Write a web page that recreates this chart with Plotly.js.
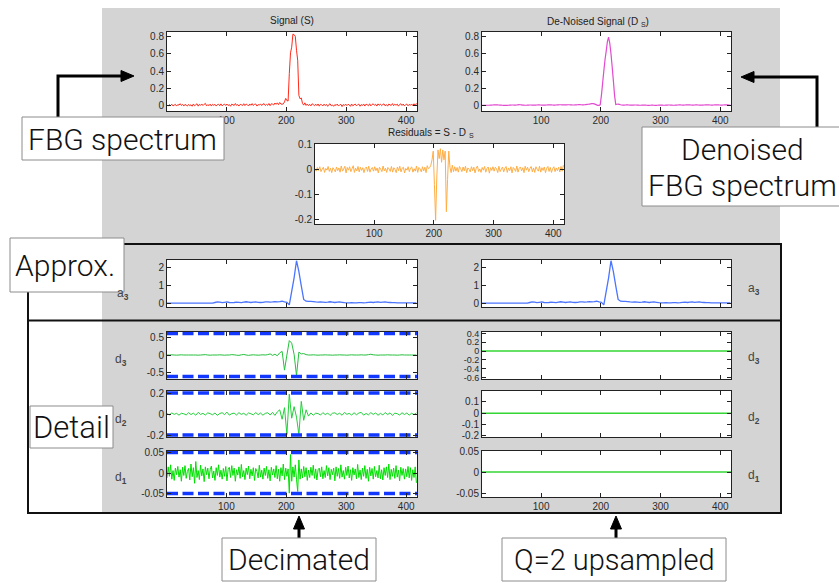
<!DOCTYPE html>
<html>
<head>
<meta charset="utf-8">
<script src="https://cdn.plot.ly/plotly-3.0.1.min.js"></script>
<style>
  html, body { margin: 0; padding: 0; background: #fff; }
  #chart { width: 839px; height: 583px; }
</style>
</head>
<body>
<div id="chart"></div>
<script>
// ---------------- data ----------------
// De-noised spectrum D_S, every 2nd sample (1, 3, 5, ... 417)
const denoisedSignal = [
  0.004,0.004,0.005,0.005,0.006,0.006,0.006,0.007,0.008,0.009,
  0.010,0.011,0.011,0.010,0.009,0.008,0.007,0.006,0.005,0.005,
  0.005,0.005,0.006,0.007,0.008,0.009,0.009,0.008,0.008,0.009,
  0.011,0.013,0.012,0.010,0.008,0.007,0.006,0.006,0.007,0.008,
  0.009,0.009,0.008,0.007,0.007,0.008,0.009,0.010,0.010,0.009,
  0.008,0.007,0.007,0.008,0.009,0.010,0.011,0.011,0.010,0.009,
  0.008,0.008,0.009,0.010,0.011,0.012,0.012,0.011,0.010,0.010,
  0.010,0.011,0.012,0.012,0.011,0.010,0.009,0.009,0.010,0.011,
  0.012,0.013,0.013,0.012,0.011,0.011,0.012,0.014,0.016,0.018,
  0.020,0.022,0.024,0.025,0.022,0.016,0.010,0.004,0.005,0.010,
  0.120,0.260,0.400,0.530,0.630,0.740,0.790,0.720,0.600,0.450,
  0.290,0.120,0.015,0.018,0.020,0.016,0.012,0.009,0.008,0.008,
  0.009,0.010,0.010,0.009,0.008,0.007,0.007,0.008,0.009,0.009,
  0.008,0.007,0.006,0.006,0.007,0.008,0.008,0.007,0.006,0.005,
  0.005,0.006,0.007,0.007,0.006,0.005,0.005,0.006,0.007,0.008,
  0.008,0.007,0.006,0.006,0.007,0.008,0.009,0.009,0.008,0.007,
  0.006,0.006,0.007,0.008,0.009,0.010,0.010,0.009,0.008,0.008,
  0.009,0.010,0.011,0.011,0.010,0.009,0.008,0.008,0.009,0.010,
  0.010,0.009,0.008,0.007,0.007,0.008,0.009,0.010,0.011,0.011,
  0.010,0.009,0.008,0.008,0.009,0.010,0.011,0.011,0.010,0.009,
  0.008,0.008,0.009,0.010,0.011,0.012,0.010,0.006,0.010
];
// Residuals = S - D_S on the same samples
const residuals = [
  0.004,-0.006,0.009,-0.003,0.012,-0.008,0.002,0.010,-0.011,0.005,
  -0.002,0.013,-0.007,0.006,-0.012,0.008,0.001,-0.009,0.011,-0.004,
  0.007,-0.010,0.015,-0.006,0.003,0.014,-0.013,0.009,-0.002,0.012,
  -0.008,0.004,0.016,-0.011,0.006,-0.005,0.013,-0.009,0.010,-0.003,
  0.008,-0.012,0.005,0.011,-0.007,0.014,-0.010,0.003,0.009,-0.006,
  0.012,-0.004,0.007,-0.013,0.010,0.002,-0.008,0.015,-0.005,0.006,
  -0.011,0.009,0.003,-0.007,0.013,-0.010,0.008,0.001,-0.012,0.011,
  -0.004,0.014,-0.009,0.006,0.010,-0.013,0.005,-0.002,0.012,-0.008,
  0.007,0.011,-0.010,0.004,-0.006,0.015,-0.011,0.009,0.003,-0.009,
  0.012,-0.005,0.010,-0.012,0.016,0.004,0.008,0.018,0.040,0.075,
  -0.060,-0.205,-0.030,0.080,0.045,0.085,0.030,0.080,0.040,0.075,
  -0.170,-0.040,0.075,0.010,-0.012,0.018,-0.008,0.012,-0.006,0.009,
  -0.010,0.013,0.004,-0.008,0.011,-0.005,0.014,-0.012,0.007,0.002,
  -0.009,0.012,-0.004,0.010,-0.013,0.006,0.015,-0.007,0.003,-0.011,
  0.009,-0.002,0.013,-0.010,0.005,0.011,-0.014,0.008,-0.003,0.012,
  -0.006,0.010,0.004,-0.012,0.014,-0.008,0.002,0.011,-0.009,0.006,
  0.013,-0.011,0.007,-0.004,0.012,-0.013,0.009,0.003,-0.007,0.015,
  -0.010,0.006,0.011,-0.005,0.008,-0.012,0.014,-0.002,0.010,-0.008,
  0.005,0.013,-0.009,0.007,-0.011,0.012,0.002,-0.006,0.014,-0.010,
  0.008,-0.003,0.011,-0.012,0.006,0.013,-0.007,0.009,-0.011,0.004,
  0.012,-0.008,0.007,-0.004,0.010,-0.009,0.013,-0.006,0.018
];
// Level-3 approximation a3, every 4th sample (1, 5, 9, ... 417)
const approxA3 = [
  0,0,0,0,0,0,0,0,0,0,
  0,0,0,0,0,0,0,0,0,0,
  0.03,0.06,0.05,0.02,0.04,0.06,0.03,0.02,0.03,0.05,
  0.04,0.02,0.05,0.07,0.05,0.03,0.05,0.06,0.04,0.03,
  0.04,0.06,0.07,0.05,0.06,0.08,0.07,0.08,0.10,0.06,
  0.04,-0.10,0.65,1.40,2.35,1.75,0.95,0.20,0.10,0.09,
  0.09,0.08,0.06,0.05,0.06,0.05,0.04,0.05,0.07,0.05,
  0.03,0.05,0.06,0.04,0.02,0.01,0.01,0.02,0.01,0.01,
  0.02,0.02,0.01,0.02,0.04,0.05,0.03,0.05,0.06,0.04,
  0.05,0.06,0.04,0.03,0.02,0.02,0.01,0.01,0.01,0.01,
  0.01,0.01,0.01,0.01,0.01
];
// Decimated details d3, d2 (every 4th sample) and d1 (every 2nd sample)
const detailD3 = [
  0,0,0.005,0,-0.005,0,0.005,0,0,0,
  0,0,0,-0.005,0,0.005,0.01,0,-0.005,0,
  0,0,0.005,0,-0.005,0,0,0.01,0.005,-0.005,
  -0.01,0.005,0.015,0,-0.01,0,0.005,0,-0.005,0,
  0.005,0,0.01,0.03,-0.01,0.02,-0.02,0.06,0.10,-0.42,
  0.0,0.40,0.33,0.02,-0.57,0.08,0.03,0.04,0.01,0,
  0,0.005,0,-0.005,0,0,0.005,0,0,-0.005,
  0,0,0.005,0,0,-0.005,0,0.005,0,0,
  0,0.005,0,0,0.01,0.02,0.005,0,-0.005,0,
  0,0,0.005,0,0,0,-0.005,0,0.005,0,
  0,0,0,0,0
];
const detailD2 = [
  0.004,-0.008,0.010,-0.003,0.006,-0.011,0.007,0.002,-0.009,0.012,
  -0.005,0.008,-0.012,0.015,-0.004,0.006,-0.010,0.011,0.003,-0.007,
  0.009,-0.013,0.005,0.012,-0.006,0.018,-0.011,0.004,0.008,-0.009,
  0.013,-0.004,0.007,-0.012,0.010,0.002,-0.008,0.014,-0.006,0.009,
  -0.011,0.006,0.012,-0.009,0.015,-0.013,0.020,0.040,-0.050,0.060,
  -0.195,0.190,-0.040,0.070,-0.030,-0.195,0.120,-0.060,0.040,-0.020,
  0.010,-0.012,0.008,0.004,-0.010,0.013,-0.006,0.009,-0.014,0.007,
  0.011,-0.005,0.008,-0.012,0.014,-0.003,0.006,-0.010,0.012,-0.007,
  0.009,0.015,-0.011,0.005,-0.008,0.013,-0.004,0.010,-0.012,0.006,
  -0.009,0.014,-0.006,0.011,-0.013,0.008,0.003,-0.010,0.012,-0.005,
  0.009,-0.011,0.007,-0.006,0.010
];
const detailD1 = [
  -0.012,0.015,-0.008,0.020,-0.015,0.006,-0.018,0.012,-0.004,0.016,
  -0.010,0.008,-0.020,0.014,-0.006,0.018,-0.013,0.004,0.011,-0.017,
  0.022,-0.009,0.013,-0.025,0.028,-0.011,0.006,-0.016,0.019,-0.007,
  0.010,-0.021,0.015,-0.004,0.012,-0.014,0.008,0.017,-0.012,0.005,
  -0.018,0.013,-0.006,0.020,-0.010,0.007,-0.015,0.011,-0.008,0.016,
  -0.019,0.009,0.014,-0.011,0.018,-0.006,0.012,-0.020,0.008,-0.005,
  0.015,-0.013,0.021,-0.009,0.006,-0.016,0.012,-0.004,0.017,-0.014,
  0.009,-0.007,0.013,-0.018,0.011,0.004,-0.012,0.019,-0.010,0.007,
  -0.015,0.012,-0.006,0.016,-0.013,0.008,-0.019,0.014,-0.005,0.010,
  -0.011,0.018,-0.014,0.009,-0.020,0.013,-0.007,0.022,-0.016,0.012,
  -0.008,0.010,-0.049,0.045,-0.020,0.015,-0.010,0.020,-0.015,-0.045,
  0.032,-0.015,0.010,-0.012,0.016,-0.009,0.013,-0.018,0.007,-0.011,
  0.014,-0.006,0.019,-0.013,0.010,-0.017,0.008,0.012,-0.009,0.015,
  -0.014,0.006,-0.011,0.018,-0.007,0.013,-0.016,0.009,-0.004,0.012,
  -0.019,0.015,-0.008,0.011,-0.013,0.020,-0.010,0.006,-0.015,0.014,
  -0.006,0.017,-0.012,0.008,-0.018,0.013,-0.005,0.010,-0.014,0.021,
  -0.011,0.007,-0.016,0.012,-0.008,0.018,-0.013,0.009,-0.020,0.014,
  -0.007,0.011,-0.015,0.016,-0.009,0.006,-0.012,0.019,-0.014,0.008,
  -0.017,0.013,-0.006,0.015,-0.011,0.022,-0.016,0.009,-0.008,0.012,
  -0.013,0.018,-0.010,0.007,-0.019,0.014,-0.006,0.011,-0.015,0.010,
  -0.009,0.016,-0.012,0.013,-0.018,0.008,-0.011,0.015,-0.024
];
// Thresholds applied to d3, d2, d1
const thresholds = [0.6, 0.2, 0.05];
// After thresholding every detail coefficient is zero
const sampleSpan = [1, 418];
const upsampledDetail = [0, 0];

const xTickVals = [100, 200, 300, 400];
const xTickText = ['100', '200', '300', '400'];
const spectrumTicks = [0, 0.2, 0.4, 0.6, 0.8];
const spectrumTickText = ['0', '0.2', '0.4', '0.6', '0.8'];
const residualTicks = [-0.2, -0.1, 0, 0.1];
const residualTickText = ['-0.2', '-0.1', '0', '0.1'];
const a3Ticks = [0, 1, 2];
const a3TickText = ['0', '1', '2'];
const d3Ticks = [-0.5, 0, 0.5];
const d3TickText = ['-0.5', '0', '0.5'];
const d2Ticks = [-0.2, 0, 0.2];
const d2TickText = ['-0.2', '0', '0.2'];
const d1Ticks = [-0.05, 0, 0.05];
const d1TickText = ['-0.05', '0', '0.05'];
const d3UpTicks = [-0.6, -0.4, -0.2, 0, 0.2, 0.4];
const d3UpTickText = ['-0.6', '-0.4', '-0.2', '0', '0.2', '0.4'];
const d2UpTicks = [-0.2, -0.1, 0, 0.1];
const d2UpTickText = ['-0.2', '-0.1', '0', '0.1'];

// sample positions
const fineX = denoisedSignal.map((_, i) => 1 + 2 * i);
const coarseX = approxA3.map((_, i) => 1 + 4 * i);
// original spectrum S = D_S + residuals
const signalS = denoisedSignal.map((d, i) => +(d + residuals[i]).toFixed(4));

// ---------------- layout helpers ----------------
const W = 839, H = 583;
const fx = p => p / W;
const fy = p => 1 - p / H;
const TICKFONT = { family: 'Liberation Sans, Arial, sans-serif', size: 10, color: '#2a2a2a' };
const LABELFONT = { family: 'Roboto, Liberation Sans, sans-serif', size: 30, color: '#111', weight: 300 };

const colL = [167, 417], colR = [482, 731], colM = [315, 564];
const rowTop = [32, 111], rowRes = [144, 224], rowA3 = [260, 307];
const rowD3 = [332, 379], rowD2 = [391, 437], rowD1 = [451, 497];

// subplot definitions: column, row, y range, ticks, labels, show x labels
const panels = [
  { col: colL, row: rowTop, yr: [-0.06, 0.85], yt: spectrumTicks, ytt: spectrumTickText, xl: true },
  { col: colR, row: rowTop, yr: [-0.06, 0.85], yt: spectrumTicks, ytt: spectrumTickText, xl: true },
  { col: colM, row: rowRes, yr: [-0.22, 0.104], yt: residualTicks, ytt: residualTickText, xl: true },
  { col: colL, row: rowA3, yr: [-0.22, 2.39], yt: a3Ticks, ytt: a3TickText, xl: false },
  { col: colR, row: rowA3, yr: [-0.22, 2.39], yt: a3Ticks, ytt: a3TickText, xl: false },
  { col: colL, row: rowD3, yr: [-0.667, 0.639], yt: d3Ticks, ytt: d3TickText, xl: false },
  { col: colL, row: rowD2, yr: [-0.219, 0.219], yt: d2Ticks, ytt: d2TickText, xl: false },
  { col: colL, row: rowD1, yr: [-0.0585, 0.0537], yt: d1Ticks, ytt: d1TickText, xl: true },
  { col: colR, row: rowD3, yr: [-0.636, 0.432], yt: d3UpTicks, ytt: d3UpTickText, xl: false, small: true },
  { col: colR, row: rowD2, yr: [-0.209, 0.197], yt: d2UpTicks, ytt: d2UpTickText, xl: false },
  { col: colR, row: rowD1, yr: [-0.0595, 0.05], yt: d1Ticks, ytt: d1TickText, xl: true }
];

const layout = {
  width: W, height: H, autosize: false,
  margin: { l: 0, r: 0, t: 0, b: 0, pad: 0 },
  paper_bgcolor: '#ffffff', plot_bgcolor: 'rgba(0,0,0,0)',
  showlegend: false,
  shapes: [], annotations: []
};

const axisCommon = {
  ticks: 'inside', ticklen: 4, tickwidth: 1, tickcolor: '#222',
  showline: true, linecolor: '#222', linewidth: 1, mirror: 'ticks',
  showgrid: false, zeroline: false, fixedrange: true, tickfont: TICKFONT
};

// grey figure panel
layout.shapes.push({ type: 'rect', xref: 'paper', yref: 'paper', layer: 'below',
  x0: fx(102), x1: fx(780), y0: fy(513), y1: fy(8),
  fillcolor: '#d4d4d4', line: { width: 0 } });

panels.forEach((p, k) => {
  const n = k + 1, sfx = n === 1 ? '' : String(n);
  layout['xaxis' + sfx] = Object.assign({}, axisCommon, {
    domain: [fx(p.col[0]), fx(p.col[1])], range: [1, 418], anchor: 'y' + sfx,
    tickmode: 'array', tickvals: xTickVals, ticktext: xTickText, showticklabels: p.xl
  });
  layout['yaxis' + sfx] = Object.assign({}, axisCommon, {
    domain: [fy(p.row[1]), fy(p.row[0])], range: p.yr, anchor: 'x' + sfx,
    tickmode: 'array', tickvals: p.yt, ticktext: p.ytt,
    tickfont: p.small ? Object.assign({}, TICKFONT, { size: 9 }) : TICKFONT
  });
  // white axes background on top of the grey panel
  layout.shapes.push({ type: 'rect', xref: 'paper', yref: 'paper', layer: 'below',
    x0: fx(p.col[0]), x1: fx(p.col[1]), y0: fy(p.row[1]), y1: fy(p.row[0]),
    fillcolor: '#ffffff', line: { width: 0 } });
});

// black frame around approximation and detail rows
layout.shapes.push({ type: 'rect', xref: 'paper', yref: 'paper', layer: 'below',
  x0: fx(28), x1: fx(781), y0: fy(513), y1: fy(244),
  fillcolor: 'rgba(0,0,0,0)', line: { color: '#111', width: 2 } });
layout.shapes.push({ type: 'line', xref: 'paper', yref: 'paper', layer: 'below',
  x0: fx(28), x1: fx(781), y0: fy(320.5), y1: fy(320.5),
  line: { color: '#111', width: 2 } });

// ---------------- traces ----------------
function ax(n) { return n === 1 ? '' : String(n); }
const traces = [];
function line(n, x, y, color, width, dash) {
  traces.push({ type: 'scatter', mode: 'lines', x: x, y: y,
    xaxis: 'x' + ax(n), yaxis: 'y' + ax(n), hoverinfo: 'skip',
    line: { color: color, width: width, dash: dash || 'solid', simplify: false } });
}
line(1, fineX, signalS, '#ff2a1a', 1);
line(2, fineX, denoisedSignal, '#e24ad0', 1.2);
line(3, fineX, residuals, '#ffae45', 1);
line(4, coarseX, approxA3, '#4b74ff', 1.3);
line(5, coarseX, approxA3, '#4b74ff', 1.3);
line(6, coarseX, detailD3, '#25c03c', 1);
line(7, coarseX, detailD2, '#22cf3a', 1);
line(8, fineX, detailD1, '#00e000', 1);
[6, 7, 8].forEach((n, k) => {
  const t = thresholds[k];
  line(n, sampleSpan, sampleSpan.map(() => t), '#1238ff', 3.5, '11px,4.5px');
  line(n, sampleSpan, sampleSpan.map(() => -t), '#1238ff', 3.5, '11px,4.5px');
});
line(9, sampleSpan, upsampledDetail, '#33d633', 1.6);
line(10, sampleSpan, upsampledDetail, '#33d633', 1.6);
line(11, sampleSpan, upsampledDetail, '#33d633', 1.6);

// ---------------- titles and side labels ----------------
function text(x, y, t, font, xanchor) {
  layout.annotations.push({ xref: 'paper', yref: 'paper', x: fx(x), y: fy(y), text: t,
    showarrow: false, xanchor: xanchor || 'center', yanchor: 'middle', font: font });
}
const TITLEFONT = { family: 'Liberation Sans, Arial, sans-serif', size: 10, color: '#222' };
text(292, 21, 'Signal (S)', TITLEFONT);
text(598, 22, 'De-Noised Signal (D <sub>S</sub>)', TITLEFONT);
text(431, 133, 'Residuals = S - D <sub>S</sub>', TITLEFONT);
const SIDEFONT = { family: 'Liberation Sans, Arial, sans-serif', size: 12, color: '#444' };
text(123, 294, 'a<sub><b>3</b></sub>', SIDEFONT);
text(754, 289, 'a<sub><b>3</b></sub>', SIDEFONT);
text(121, 360, 'd<sub><b>3</b></sub>', SIDEFONT);
text(121, 420, 'd<sub><b>2</b></sub>', SIDEFONT);
text(121, 478, 'd<sub><b>1</b></sub>', SIDEFONT);
text(754, 358, 'd<sub><b>3</b></sub>', SIDEFONT);
text(754, 418, 'd<sub><b>2</b></sub>', SIDEFONT);
text(754, 476, 'd<sub><b>1</b></sub>', SIDEFONT);

// ---------------- callout boxes and arrows ----------------
function pathOf(pts, close) {
  return pts.map((p, i) => (i ? 'L' : 'M') + fx(p[0]).toFixed(5) + ',' + fy(p[1]).toFixed(5)).join(' ') + (close ? ' Z' : '');
}
function arrowLine(pts) {
  layout.shapes.push({ type: 'path', xref: 'paper', yref: 'paper', layer: 'above',
    path: pathOf(pts, false), line: { color: '#000', width: 3 } });
}
function arrowHead(pts) {
  layout.shapes.push({ type: 'path', xref: 'paper', yref: 'paper', layer: 'above',
    path: pathOf(pts, true), fillcolor: '#000', line: { color: '#000', width: 1 } });
}
function box(x0, y0, x1, y1) {
  layout.shapes.push({ type: 'rect', xref: 'paper', yref: 'paper', layer: 'above',
    x0: fx(x0), x1: fx(x1), y0: fy(y1), y1: fy(y0),
    fillcolor: '#ffffff', line: { color: '#8c8c8c', width: 1 } });
}

arrowLine([[58, 117], [58, 76], [122, 76]]);
arrowHead([[134, 76], [121, 70.5], [121, 81.5]]);
arrowLine([[817, 127], [817, 77], [753, 77]]);
arrowHead([[741, 77], [754, 71.5], [754, 82.5]]);
arrowLine([[299, 538], [299, 528]]);
arrowHead([[299, 516], [293.5, 529], [304.5, 529]]);
arrowLine([[616, 538], [616, 528]]);
arrowHead([[616, 516], [610.5, 529], [621.5, 529]]);

box(22, 117, 224, 160);
box(642, 127, 845, 206);
box(10, 238, 124, 292);
box(30, 406, 113, 448);
box(222, 538, 376, 581);
box(502, 538, 726, 581);

text(122, 139, 'FBG spectrum', LABELFONT);
text(742, 149, 'Denoised', LABELFONT);
text(742, 185, 'FBG spectrum', LABELFONT);
text(65, 265, 'Approx.', LABELFONT);
text(71.5, 427, 'Detail', Object.assign({}, LABELFONT, { size: 31 }));
text(299, 559.5, 'Decimated', LABELFONT);
text(614, 559.5, 'Q=2 upsampled', Object.assign({}, LABELFONT, { size: 29 }));

Plotly.newPlot('chart', traces, layout, { staticPlot: true, displayModeBar: false });
</script>
</body>
</html>
